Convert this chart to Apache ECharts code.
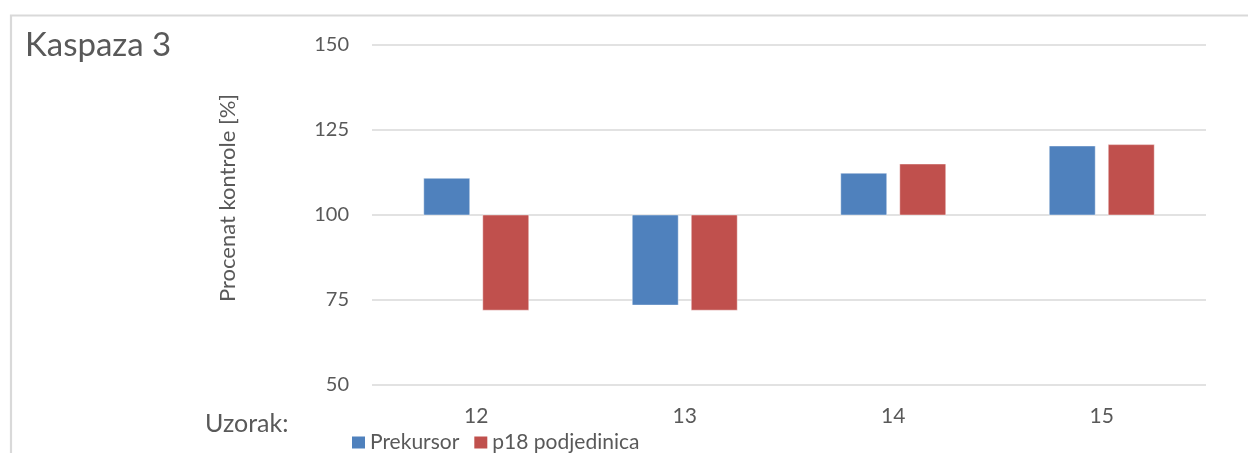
<!DOCTYPE html>
<html>
<head>
<meta charset="utf-8">
<script src="https://cdn.jsdelivr.net/npm/echarts@6/dist/echarts.min.js"></script>
<style>
  html, body { margin: 0; padding: 0; background: #ffffff; }
  #chart { width: 1248px; height: 453px; }
</style>
</head>
<body>
<div id="chart"></div>
<script>
// Sample numbers on the category axis
const categories = ['12', '13', '14', '15'];
// Percent of control for each sample
const prekursor = [110.8, 73.5, 112.3, 120.3];
const p18 = [72.0, 72.0, 115.0, 120.7];
// Value-axis ticks
const yTicks = [50, 75, 100, 125, 150];
// Bars grow from the control level
const BASE = 100;

const TEXT = '#595959';
const FONT = 'Lato';

// Bars are drawn from BASE to the value, placed side by side in each category band
function makeRenderItem(slot) {
  return function (params, api) {
    const cat = api.value(0);
    const val = api.value(1);
    const band = api.size([1, 0])[0];
    const barW = band * 0.2206;
    const gap = band * 0.0624;
    const baseP = api.coord([cat, BASE]);
    const valP = api.coord([cat, val]);
    const cx = baseP[0] + (slot === 0 ? -1 : 1) * (barW + gap) / 2;
    const y0 = Math.min(baseP[1], valP[1]);
    const h = Math.abs(baseP[1] - valP[1]);
    return {
      type: 'rect',
      shape: { x: cx - barW / 2, y: y0, width: barW, height: h },
      style: {
        fill: api.visual('color'),
        stroke: 'rgba(255,255,255,0.45)',
        lineWidth: 1
      }
    };
  };
}

const chart = echarts.init(document.getElementById('chart'), null, { renderer: 'canvas' });

chart.setOption({
  backgroundColor: '#ffffff',
  animation: false,
  textStyle: { fontFamily: FONT, color: TEXT },
  title: {
    text: 'Kaspaza 3',
    left: 20,
    top: 24,
    textStyle: { fontFamily: FONT, fontSize: 33, fontWeight: 'normal', color: TEXT }
  },
  legend: {
    data: ['Prekursor', 'p18 podjedinica'],
    icon: 'rect',
    left: 347,
    top: 427,
    itemWidth: 13,
    itemHeight: 12,
    itemGap: 15,
    textStyle: { fontFamily: FONT, fontSize: 21, color: TEXT }
  },
  grid: { left: 372, right: 42, top: 45, bottom: 68, containLabel: false },
  xAxis: {
    type: 'category',
    data: categories,
    position: 'bottom',
    axisLine: { show: false },
    axisTick: { show: false },
    axisLabel: { fontFamily: FONT, fontSize: 21, color: TEXT, margin: 21 }
  },
  yAxis: {
    type: 'value',
    min: yTicks[0],
    max: yTicks[yTicks.length - 1],
    interval: 25,
    name: 'Procenat kontrole [%]',
    nameLocation: 'middle',
    nameGap: 133,
    nameTextStyle: { fontFamily: FONT, fontSize: 22, color: TEXT, padding: [0, 0, 0, 34] },
    axisLine: { show: false },
    axisTick: { show: false },
    axisLabel: { fontFamily: FONT, fontSize: 20, color: TEXT, margin: 23 },
    splitLine: { lineStyle: { color: '#d9d9d9', width: 1.6 } }
  },
  graphic: [
    {
      type: 'polyline',
      silent: true,
      shape: { points: [[11, 453], [11, 15.5], [1248, 15.5]] },
      style: { stroke: '#d9d9d9', lineWidth: 2.2, fill: null }
    },
    {
      type: 'text',
      silent: true,
      style: {
        x: 205, y: 424,
        text: 'Uzorak:',
        fontFamily: FONT, fontSize: 25, fill: TEXT,
        verticalAlign: 'middle'
      }
    }
  ],
  series: [
    {
      name: 'Prekursor',
      type: 'custom',
      itemStyle: { color: '#4F81BD' },
      encode: { x: 0, y: 1 },
      data: prekursor.map((v, i) => [i, v]),
      renderItem: makeRenderItem(0)
    },
    {
      name: 'p18 podjedinica',
      type: 'custom',
      itemStyle: { color: '#C0504D' },
      encode: { x: 0, y: 1 },
      data: p18.map((v, i) => [i, v]),
      renderItem: makeRenderItem(1)
    }
  ]
});
</script>
</body>
</html>
